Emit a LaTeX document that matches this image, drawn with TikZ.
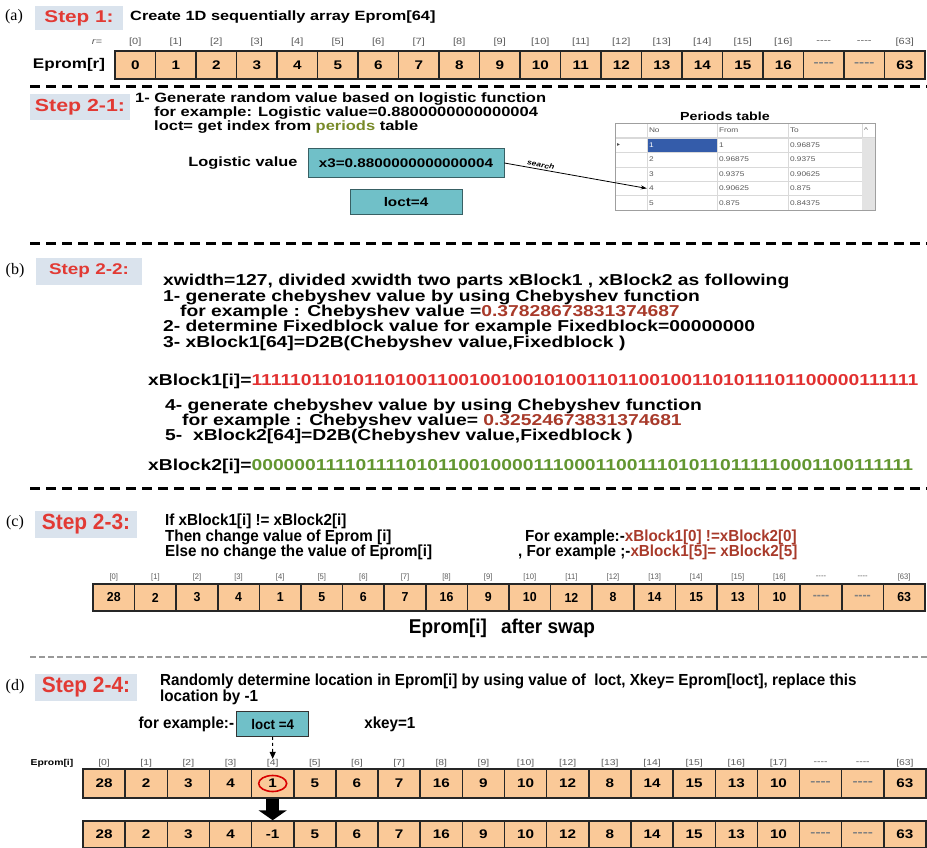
\documentclass[tikz,border=0pt]{standalone}
\usepackage{fontspec}
\usepackage{tikz}
\usetikzlibrary{arrows.meta,positioning,shapes.geometric}
\newfontfamily\wfont[FakeStretch=1.22]{Liberation Sans}
\newfontfamily\nfont[FakeStretch=0.95]{Liberation Sans}
\newfontfamily\tagfont{Liberation Serif}
\newfontfamily\dvfont{DejaVu Sans}
\newcommand\fsz[2]{\fontsize{#1}{#2}\selectfont}
\newcommand\gdash{\textcolor{gray}{----}}
\lineskiplimit=-30pt
\definecolor{stepbg}{RGB}{218,227,237}
\definecolor{stepred}{RGB}{226,58,52}
\definecolor{cellfill}{RGB}{250,201,152}
\definecolor{tealfill}{RGB}{112,192,200}
\definecolor{valred}{RGB}{168,58,42}
\definecolor{bitred}{RGB}{226,48,48}
\definecolor{bitgreen}{RGB}{98,150,48}
\definecolor{perolive}{RGB}{120,138,40}
\definecolor{selblue}{RGB}{52,92,170}
\definecolor{idxgray}{RGB}{90,90,90}
\tikzset{
  stepbox/.style={fill=stepbg, text=stepred, inner sep=0, minimum height=25,
                  font=\wfont\bfseries\fsz{17}{17}},
  stepnarrow/.style={stepbox, font=\nfont\bfseries\fsz{22}{22}},
  tag/.style={inner sep=0, font=\tagfont\fsz{16}{16}},
  body/.style={anchor=west, inner sep=0, align=left,
               font=\wfont\bfseries\fsz{13.4}{14}},
  nbody/.style={body, font=\nfont\bfseries\fsz{16}{15.3}},
  cell/.style={draw=black!85, line width=1.5pt, fill=cellfill, inner sep=0,
               font=\wfont\bfseries\fsz{12.5}{12.5}},
  idx/.style={inner sep=0, text=idxgray, font=\wfont\fsz{9}{9}},
  valbox/.style={draw=tealfill!50!black, fill=tealfill, line width=0.8pt,
                 inner sep=0, font=\wfont\bfseries\fsz{12.5}{12.5}},
  tcell/.style={draw=gray!30, fill=white, inner xsep=2pt, inner ysep=0,
                minimum height=14.4, align=left, text=gray!70!black,
                font=\wfont\fsz{6.8}{7}},
  selcell/.style={fill=selblue, text=white},
  sepline/.style={line width=3pt, dash pattern=on 10pt off 6pt},
  thinsep/.style={line width=2pt, gray!80, dash pattern=on 6pt off 3pt}
}
\begin{document}
\begin{tikzpicture}[x=1pt, y=-1pt]
  \useasboundingbox (0,0) rectangle (927,848);

  % (a) step 1
  \node[tag] (taga) at (14,17) {(a)};
  \node[stepbox, minimum width=88, minimum height=24] (s1) at (79,18) {Step 1:};
  \node[body] (s1txt) at (130,17) {Create 1D sequentially array Eprom[64]};
  \node[idx, font=\wfont\itshape\fsz{9}{9}] (rlab) at (97,42) {r=};
  \node[inner sep=0, font=\wfont\bfseries\fsz{14}{14}] (alab) at (69,65) {Eprom[r]};
  \foreach \v/\k [count=\i from 0] in {0/[0],1/[1],2/[2],3/[3],4/[4],5/[5],6/[6],
      7/[7],8/[8],9/[9],10/[10],11/[11],12/[12],13/[13],14/[14],15/[15],16/[16],
      \gdash/----,\gdash/----,63/[63]}{
    \node[cell, minimum width=40.5, minimum height=28] (a\i) at ({135.25+40.5*\i},65) {\v};
    \node[idx] (ak\i) at ({135.25+40.5*\i},42) {\k};
  }
  \draw[sepline] (30,87) -- (927,87);

  % step 2-1
  \node[stepbox, minimum width=100, minimum height=26,
        font=\wfont\bfseries\fsz{17.5}{17.5}] (s21) at (80,107) {Step 2-1:};
  \node[body, font=\wfont\bfseries\fsz{13.5}{14}] (s21txt) at (135,113)
    {1- Generate random value based on logistic function\\
     \hspace*{19pt}for example: Logistic value=0.8800000000000004\\
     \hspace*{19pt}loct= get index from \textcolor{perolive}{periods} table};
  \node[valbox, minimum width=196, minimum height=29] (x3) at (406,163) {x3=0.8800000000000004};
  \node[body, left=10pt of x3] (loglab) {Logistic value};
  \node[valbox, minimum width=112, minimum height=25, below=11pt of x3] (loct) {loct=4};

  % periods table
  \node[inner sep=0, font=\wfont\bfseries\fsz{11.7}{12}] (ptitle) at (725,116) {Periods table};
  \node[tcell, minimum width=32, text width=28] (ph0) at (631,130.5) {};
  \node[tcell, minimum width=70, text width=66] (ph1) at (682,130.5) {No};
  \node[tcell, minimum width=71, text width=67] (ph2) at (752.5,130.5) {From};
  \node[tcell, minimum width=74, text width=70] (ph3) at (825,130.5) {To};
  \node[tcell, minimum width=13, text width=9] (ph4) at (868.5,130.5) {\textasciicircum};
  \foreach \n/\f/\t [count=\r] in {1/1/0.96875, 2/0.96875/0.9375, 3/0.9375/0.90625,
      4/0.90625/0.875, 5/0.875/0.84375}{
    \pgfmathsetmacro\yc{138+14.4*(\r-0.5)}
    \ifnum\r=1 \def\sel{selcell}\else\def\sel{}\fi
    \node[tcell, minimum width=32, text width=28] (p\r-0) at (631,\yc)
      {\ifnum\r=1 \dvfont\fsz{6}{6}\textcolor{black!70}{▸}\fi};
    \node[tcell, \sel, minimum width=70, text width=66] (p\r-1) at (682,\yc) {\n};
    \node[tcell, minimum width=71, text width=67] (p\r-2) at (752.5,\yc) {\f};
    \node[tcell, minimum width=74, text width=70] (p\r-3) at (825,\yc) {\t};
  }
  \node[fill=gray!22, minimum width=13, minimum height=72, inner sep=0] (pscroll) at (868.5,174) {};
  \draw[gray!75, line width=0.8pt] (615,123) rectangle (875,210);
  \draw[-{Stealth[length=6pt,width=4pt]}, line width=0.8pt] (x3.east)
    -- node[sloped, above, pos=0.25, inner sep=1.5pt,
            font=\wfont\bfseries\itshape\fsz{7}{7}] (srch) {search} (p4-1.west);

  \draw[sepline] (30,243) -- (927,243);

  % (b) step 2-2
  \node[tag] (tagb) at (15,271) {(b)};
  \node[stepbox, minimum width=106, minimum height=27,
        font=\wfont\bfseries\fsz{15.5}{15.5}] (s22) at (89,271) {Step 2-2:};
  \node[body, font=\wfont\bfseries\fsz{15.8}{15.3}] (s22txt) at (163,312.5)
    {xwidth=127, divided xwidth two parts xBlock1 , xBlock2 as following\\
     1- generate chebyshev value by using Chebyshev function\\
     \hspace*{17pt}for example : Chebyshev value =\textcolor{valred}{0.37828673831374687}\\
     2- determine Fixedblock value for example Fixedblock=00000000\\
     3- xBlock1[64]=D2B(Chebyshev value,Fixedblock )};
  \node[body, font=\wfont\bfseries\fsz{15.8}{15.3}] (xb1) at (148,381)
    {xBlock1[i]=\textcolor{bitred}{1111101101011010011001001001010011011001001101011101100000111111}};
  \node[body, font=\wfont\bfseries\fsz{15.8}{15.3}] (s22more) at (165,421.5)
    {4- generate chebyshev value by using Chebyshev function\\
     \hspace*{17pt}for example : Chebyshev value= \textcolor{valred}{0.32524673831374681}\\
     5-\ \ xBlock2[64]=D2B(Chebyshev value,Fixedblock )};
  \node[body, font=\wfont\bfseries\fsz{15.8}{15.3}] (xb2) at (148,466)
    {xBlock2[i]=\textcolor{bitgreen}{0000001111011110101100100001110001100111010110111110001100111111}};

  \draw[sepline] (30,488) -- (927,488);

  % (c) step 2-3
  \node[tag] (tagc) at (15,523) {(c)};
  \node[stepnarrow, minimum width=102, minimum height=27] (s23) at (86,524) {Step 2-3:};
  \node[nbody] (s23txt) at (165,537)
    {If xBlock1[i] != xBlock2[i]\\
     Then change value of Eprom [i]\\
     Else no change the value of Eprom[i]};
  \node[nbody] (ex1) at (525,537) {For example:-\textcolor{valred}{xBlock1[0] !=xBlock2[0]}};
  \node[nbody] (ex2) at (518,552) {, For example ;-\textcolor{valred}{xBlock1[5]= xBlock2[5]}};
  \foreach \v/\k [count=\i from 0] in {28/[0],2/[1],3/[2],4/[3],1/[4],5/[5],6/[6],
      7/[7],16/[8],9/[9],10/[10],12/[11],8/[12],14/[13],15/[14],13/[15],10/[16],
      \gdash/----,\gdash/----,63/[63]}{
    \node[cell, minimum width=41.6, minimum height=27,
          font=\nfont\bfseries\fsz{13}{13}] (c\i) at ({113.8+41.6*\i},597.5) {\v};
    \node[idx, font=\nfont\fsz{8}{8}] (ck\i) at ({113.8+41.6*\i},577) {\k};
  }
  \node[inner sep=0, font=\nfont\bfseries\fsz{20}{20}] (swaplab) at (502,628)
    {Eprom[i]\hspace{14pt}after swap};

  \draw[thinsep] (30,657) -- (927,657);

  % (d) step 2-4
  \node[tag] (tagd) at (15,687) {(d)};
  \node[stepnarrow, minimum width=102, minimum height=27] (s24) at (86,687) {Step 2-4:};
  \node[nbody] (s24txt) at (160,689.5)
    {Randomly determine location in Eprom[i] by using value of\ \ loct, Xkey= Eprom[loct], replace this\\
     location by -1};
  \node[valbox, draw=black!80, minimum width=72, minimum height=25,
        font=\nfont\bfseries\fsz{14}{14}] (loctd) at (272.7,724) {loct =4};
  \node[nbody, left=2pt of loctd] (fex) {for example:-};
  \node[nbody, right=55pt of loctd] (xkey) {xkey=1};
  \node[inner sep=0, font=\wfont\bfseries\fsz{8.5}{8.5}] (dlab) at (52,763) {Eprom[i]};
  \foreach \v/\w/\k [count=\i from 0] in {28/28/[0],2/2/[1],3/3/[2],4/4/[3],1/-1/[4],
      5/5/[5],6/6/[6],7/7/[7],16/16/[8],9/9/[9],10/10/[10],12/12/[12],8/8/[13],
      14/14/[14],15/15/[15],13/13/[16],10/10/[17],\gdash/\gdash/----,
      \gdash/\gdash/----,63/63/[63]}{
    \node[cell, minimum width=42.15, minimum height=29] (da\i) at ({104.075+42.15*\i},783.5) {\v};
    \node[cell, minimum width=42.15, minimum height=27] (db\i) at ({104.075+42.15*\i},834.5) {\w};
    \node[idx, font=\wfont\fsz{8.5}{8.5}] (dk\i) at ({104.075+42.15*\i},763) {\k};
  }
  \node[ellipse, draw=red!85!black, line width=1.6pt, minimum width=28,
        minimum height=16, inner sep=0] (hit) at (da4) {};
  \draw[dashed, line width=1pt, -{Triangle[length=7pt,width=6pt]}] (loctd.south) -- (dk4.north);
  \draw[line width=13pt, -{Triangle[length=10pt 0 0,width=28pt 0 0]}] (da4.south) -- (db4.north);
\end{tikzpicture}
\end{document}
